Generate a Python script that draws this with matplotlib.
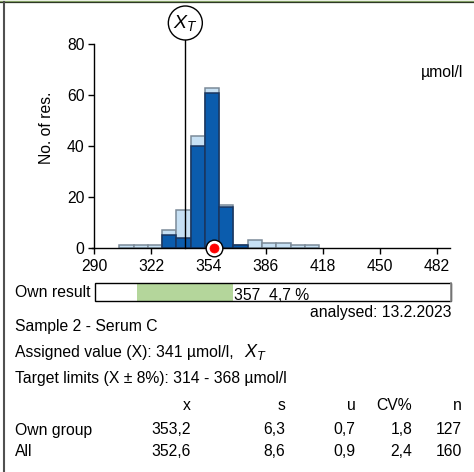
import matplotlib
matplotlib.use("Agg")
import matplotlib.pyplot as plt
from matplotlib.patches import Rectangle, Ellipse
from matplotlib.lines import Line2D
from matplotlib.transforms import blended_transform_factory

plt.rcParams['font.family'] = ['Liberation Sans', 'DejaVu Sans']
plt.rcParams['mathtext.fontset'] = 'custom'
plt.rcParams['mathtext.it'] = 'Liberation Sans:italic'
plt.rcParams['mathtext.rm'] = 'Liberation Sans'

# Histogram bins (left edges, µmol/l) and counts
bin_left = [304, 312, 320, 328, 336, 344, 352, 360, 368, 376, 384, 392, 400, 408]
bin_width = 8
all_counts = [1, 1, 1, 7, 15, 44, 63, 17, 1, 3, 2, 2, 1, 1]
own_counts = [0, 0, 0, 5, 4, 40, 61, 16, 1, 0, 0, 0, 0, 0]

assigned_value = 341
target_low, target_high = 314, 368
own_result = 357
own_deviation = "4,7 %"
analysed_date = "13.2.2023"

x_ticks = [290, 322, 354, 386, 418, 450, 482]
y_ticks = [0, 20, 40, 60, 80]

stat_headers = ["x", "s", "u", "CV%", "n"]
own_group_stats = ["353,2", "6,3", "0,7", "1,8", "127"]
all_stats = ["352,6", "8,6", "0,9", "2,4", "160"]

W, H = 474, 472
FS = 11.3
fig = plt.figure(figsize=(W / 100, H / 100), dpi=100)


def fx(px):
    return px / W


def fy(py):
    return 1 - py / H


# main histogram axes (pixel layout)
ax_l, ax_r, ax_t, ax_b = 91.7, 450.0, 44.3, 248.0
ax = fig.add_axes([fx(ax_l), fy(ax_b), (ax_r - ax_l) / W, (ax_b - ax_t) / H])
x_min, x_max = 288.5, 489.4
ax.set_xlim(x_min, x_max)
ax.set_ylim(0, 80)

ax.bar(bin_left, all_counts, width=bin_width, align='edge',
       color='#c6e0f4', edgecolor='#7b8a98', linewidth=1.1, zorder=2)
own_l = [b for b, c in zip(bin_left, own_counts) if c > 0]
own_c = [c for c in own_counts if c > 0]
ax.bar(own_l, own_c, width=bin_width, align='edge',
       color='#0b5cad', edgecolor='#1a355e', linewidth=1.1, zorder=3)

for side in ('top', 'right'):
    ax.spines[side].set_visible(False)
ax.spines['left'].set_position(('data', 290))
ax.spines['left'].set_bounds(0, 80)
ax.spines['left'].set_linewidth(1.0)
ax.spines['bottom'].set_linewidth(1.0)
ax.spines['bottom'].set_zorder(4)

ax.set_xticks(x_ticks)
ax.set_yticks(y_ticks)
ax.tick_params(axis='both', direction='out', length=4, width=1.0,
               labelsize=FS, colors='black')
ax.tick_params(axis='x', pad=4)
ax.tick_params(axis='y', pad=3)

fig.text(fx(46.7), fy(128), "No. of res.", rotation=90, ha='center',
         va='center', fontsize=FS)
fig.text(fx(463), fy(72), "µmol/l", ha='right', va='center', fontsize=FS)

# assigned value marker: vertical line with circled X_T on top
ax_w_px = ax_r - ax_l
ax_h_px = ax_b - ax_t
circ_cy = (ax_b - 23) / ax_h_px
circ_r = 17
xv = (assigned_value - x_min) / (x_max - x_min)
bt = blended_transform_factory(ax.transData, ax.transAxes)
ax.plot([assigned_value, assigned_value], [0, circ_cy - circ_r / ax_h_px],
        color='black', lw=1.0, transform=bt, clip_on=False, zorder=5)
ax.add_patch(Ellipse((xv, circ_cy), 2 * circ_r / ax_w_px, 2 * circ_r / ax_h_px,
                     transform=ax.transAxes, facecolor='white',
                     edgecolor='black', lw=1.0, clip_on=False, zorder=5))
ax.text(xv, circ_cy, "$X_T$", transform=ax.transAxes, ha='center',
        va='center', fontsize=14, zorder=6)

# own result point on the axis
ax.plot([own_result], [0], marker='o', markersize=12, markerfacecolor='white',
        markeredgecolor='black', markeredgewidth=1.0, clip_on=False, zorder=6)
ax.plot([own_result], [0], marker='o', markersize=6.5, markerfacecolor='#ff0000',
        markeredgecolor='#ff0000', markeredgewidth=0.5, clip_on=False, zorder=7)

# own result bar with target range
box_t, box_b = 283.3, 301.3
bx = blended_transform_factory(ax.transData, fig.transFigure)
ax.add_patch(Rectangle((target_low, fy(box_b)), target_high - target_low,
                       (box_b - box_t) / H, transform=bx, facecolor='#b4d69b',
                       edgecolor='none', clip_on=False, zorder=1))
ax.add_patch(Rectangle((290.2, fy(box_b)), x_max + 0.4 - 290.2,
                       (box_b - box_t) / H, transform=bx, facecolor='none',
                       edgecolor='black', lw=1.0, clip_on=False, zorder=2))
ax.plot([x_max + 0.4, x_max + 0.4], [fy(box_b), fy(box_t)], color='#8c8c8c',
        lw=1.2, transform=bx, clip_on=False, zorder=3)
ax.text(target_high + 0.3, fy(299.8), f"{own_result}  {own_deviation}",
        transform=bx, ha='left', va='baseline', fontsize=FS)

fig.text(fx(15), fy(292.5), "Own result", ha='left', va='center', fontsize=FS)
fig.text(fx(451.7), fy(312.5), f"analysed: {analysed_date}", ha='right',
         va='center', fontsize=FS)

fig.text(fx(15), fy(327), "Sample 2 - Serum C", ha='left', va='center',
         fontsize=FS)
fig.text(fx(15), fy(353), f"Assigned value (X): {assigned_value} µmol/l,",
         ha='left', va='center', fontsize=FS)
fig.text(fx(244), fy(352), "$X_T$", ha='left', va='center', fontsize=13)
fig.text(fx(15), fy(378),
         f"Target limits (X ± 8%): {target_low} - {target_high} µmol/l",
         ha='left', va='center', fontsize=FS)

col_right = [190.7, 285.3, 355.7, 412.3, 462.0]
rows = [("", stat_headers, 406), ("Own group", own_group_stats, 430),
        ("All", all_stats, 452)]
for label, vals, yy in rows:
    if label:
        fig.text(fx(15), fy(yy), label, ha='left', va='center', fontsize=FS)
    for xr, v in zip(col_right, vals):
        fig.text(fx(xr), fy(yy), v, ha='right', va='center', fontsize=FS)

# page frame: top rule and left rule
fig.add_artist(Line2D([0, 1], [fy(0.6), fy(0.6)], transform=fig.transFigure,
                      color='#8fae6e', lw=1.0))
fig.add_artist(Line2D([0, 1], [fy(1.8), fy(1.8)], transform=fig.transFigure,
                      color='#2e3826', lw=0.9))
fig.add_artist(Line2D([fx(3.7), fx(3.7)], [0, fy(2)], transform=fig.transFigure,
                      color='#505050', lw=1.5))

fig.savefig("out.png", dpi=100)
